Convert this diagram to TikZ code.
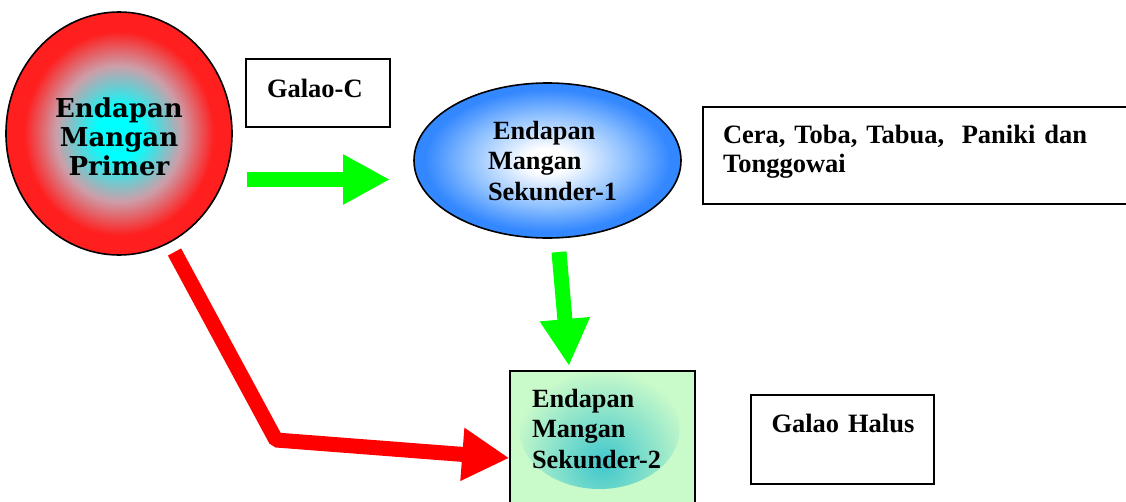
\documentclass[tikz,border=0pt]{standalone}
\usepackage{fontspec}
\setmainfont{Liberation Serif}
\newfontfamily\primerfont{DejaVu Serif}
\usetikzlibrary{arrows.meta,shapes.geometric,calc}

\definecolor{arrowgreen}{rgb}{0,1,0}
\definecolor{arrowred}{rgb}{1,0,0}
\definecolor{primercore}{rgb}{0,1,1}
\definecolor{primermid}{rgb}{0.80,0.62,0.66}
\definecolor{primeredge}{rgb}{1,0.12,0.12}
\definecolor{sekmid}{rgb}{0.55,0.75,1}
\definecolor{sekedge}{rgb}{0.2,0.53,1}
\definecolor{sektwofill}{rgb}{0.79,0.98,0.79}
\definecolor{sektwocore}{rgb}{0.25,0.78,0.80}

\pgfdeclareradialshading{primerglow}{\pgfpoint{0bp}{0bp}}{color(0bp)=(primercore); color(5bp)=(primercore); color(14bp)=(primermid); color(21bp)=(primeredge); color(25bp)=(primeredge); color(50bp)=(primeredge)}
\pgfdeclareradialshading{sekglow}{\pgfpoint{0bp}{0bp}}{color(0bp)=(white); color(4bp)=(white); color(15bp)=(sekmid); color(23bp)=(sekedge); color(25bp)=(sekedge); color(50bp)=(sekedge)}

\begin{document}
\begin{tikzpicture}[x=1pt,y=-1pt,line width=1.6pt,
            primer node/.style={ellipse,draw,shading=primerglow,inner sep=0pt,
                minimum width=226pt,minimum height=243pt,text width=150pt,align=center,
                font=\fontsize{26}{29}\selectfont\primerfont\bfseries},
            sek node/.style={ellipse,draw,shading=sekglow,inner sep=0pt,
                minimum width=267pt,minimum height=155pt,text width=141pt,align=left,
                font=\fontsize{26.3}{30.5}\selectfont\bfseries},
            info box/.style={rectangle,draw,inner ysep=0pt,align=left,
                font=\fontsize{26.5}{29}\selectfont\bfseries},
            green arrow/.style={draw=arrowgreen,line width=15pt,-{Triangle[length=47pt,width=47pt]}},
            red arrow/.style={draw=arrowred,line width=15pt,line join=bevel,-{Triangle[length=47pt,width=50pt]}}]

        \useasboundingbox (0,0) rectangle (1126,501);

        % Define vertices
        \node[primer node,text height=40pt,text depth=73pt] (primer) at (119,133.5)
            {Endapan\\Mangan\\Primer};
        \node[sek node,text height=30pt,text depth=73pt] (sek1) at (547.5,160.5)
            {\hspace*{16pt}Endapan\\\hspace*{11pt}Mangan\\\hspace*{11pt}Sekunder-1};
        \node[info box,inner xsep=22pt,text width=141pt,text height=36pt,text depth=149pt,
            minimum width=185pt,minimum height=185pt,fill=sektwofill,
            path picture={\shade[inner color=sektwocore,outer color=sektwofill]
                ($(path picture bounding box.north)+(-3,58)$) ellipse [x radius=80pt,y radius=60pt];},
            font=\fontsize{26.3}{30.5}\selectfont\bfseries] (sek2) at (602.5,463.5)
            {Endapan\\Mangan\\Sekunder-2};
        \node[info box,inner xsep=21pt,text width=102pt,text height=38pt,text depth=30pt,
            minimum width=144pt,minimum height=68pt] (galaoc) at (318,93) {Galao-C};
        \node[info box,inner xsep=20pt,text width=400pt,text height=36pt,text depth=61pt,
            minimum width=440pt,minimum height=97pt] (lokasi) at (923,155.5)
            {Cera, Toba, Tabua,~ Paniki dan\\Tonggowai};
        \node[info box,inner xsep=20.5pt,text width=142pt,text height=37pt,text depth=52pt,
            minimum width=183pt,minimum height=89pt] (galaohalus) at (842.5,439.5) {\mbox{Galao Halus}};

        \coordinate (g1s) at (247,179.5);
        \coordinate (g1e) at (390,179.5);
        \coordinate (g2s) at (559,252);
        \coordinate (g2e) at (569,366);
        \coordinate (rs) at (174.5,252);
        \coordinate (rb) at (276,440);

        % Draw edges
        \draw[green arrow] (g1s) -- (g1e);
        \draw[green arrow] (g2s) -- (g2e);
        \draw[red arrow] (rs) -- (rb) -- ([yshift=5.5pt]sek2.west);

\end{tikzpicture}
\end{document}
